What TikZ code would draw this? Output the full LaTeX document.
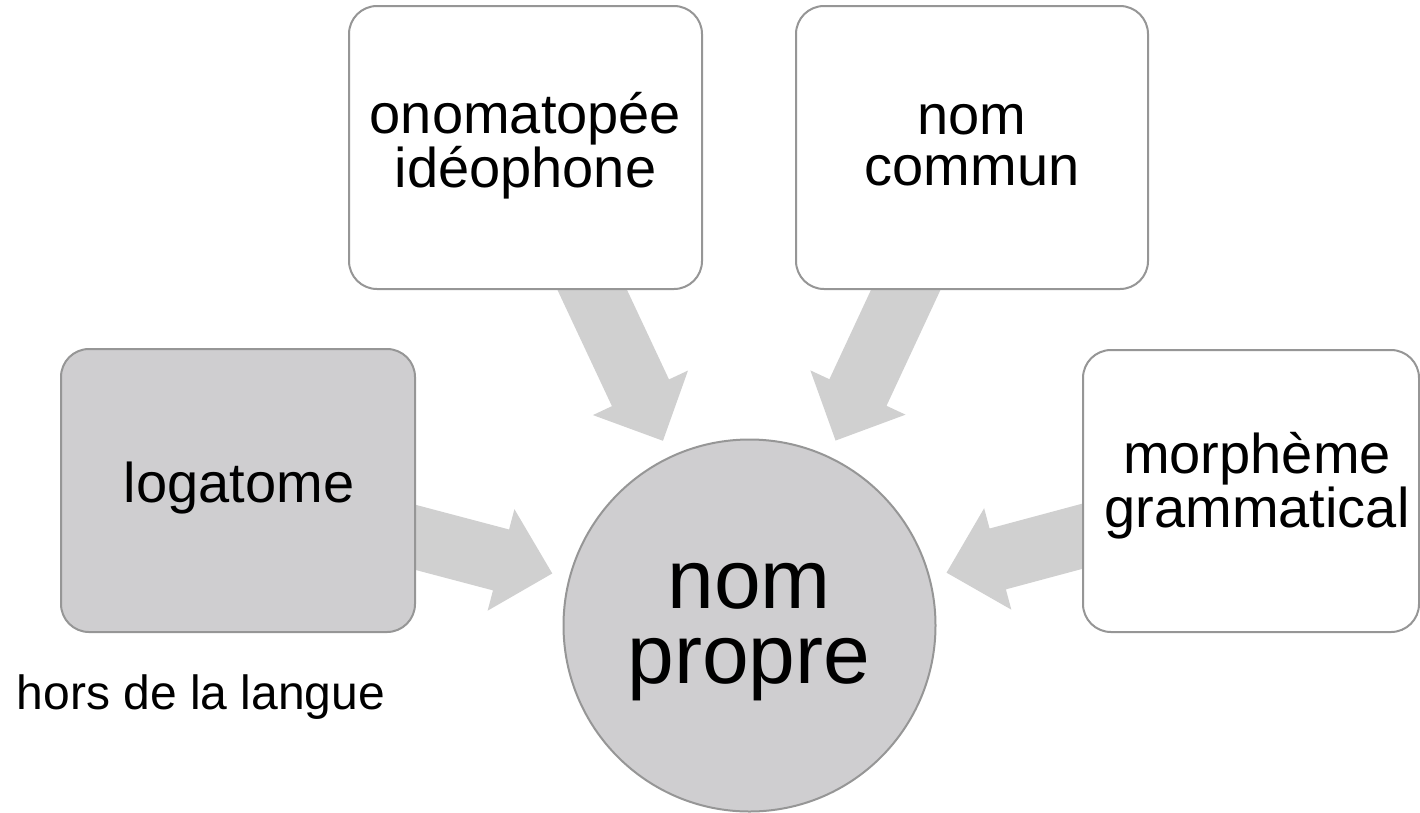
\documentclass[tikz,border=0pt]{standalone}
\usepackage{fontspec}
\setmainfont{Liberation Sans}
\usetikzlibrary{calc}

\definecolor{cardline}{RGB}{150,150,150}
\definecolor{softgray}{RGB}{207,206,208}
\definecolor{arrowgray}{RGB}{208,208,208}

\tikzset{
  card/.style={draw=cardline, line width=2pt, rounded corners=28pt,
               fill=white, inner sep=0pt},
  shadedcard/.style={card, fill=softgray},
  hub/.style={circle, draw=cardline, line width=2pt, fill=softgray,
              minimum size=372pt, inner sep=0pt},
  boxtext/.style={anchor=base, inner sep=0pt, align=center,
                  font=\fontsize{56}{52}\selectfont},
  hubtext/.style={anchor=base, inner sep=0pt, align=center,
                  font=\fontsize{84}{75}\selectfont},
  notetext/.style={anchor=base, inner sep=0pt,
                   font=\fontsize{48}{48}\selectfont},
  flow/.style={fill=arrowgray, draw=none},
}

% broad block arrow from the centre of #1 towards #2, tip stopping
% 204pt short of the centre of #2
\newcommand\blockarrow[2]{%
  \fill[flow]
    ($(#1)!31.5pt!90:(#2)$)
    -- ($(#2)!257pt!(#1)!31.5pt!90:(#2)$)
    -- ($(#2)!257pt!(#1)!52.5pt!90:(#2)$)
    -- ($(#2)!204pt!(#1)$)
    -- ($(#2)!257pt!(#1)!52.5pt!-90:(#2)$)
    -- ($(#2)!257pt!(#1)!31.5pt!-90:(#2)$)
    -- ($(#1)!31.5pt!-90:(#2)$)
    -- cycle;}

\begin{document}
\begin{tikzpicture}[x=1pt, y=-1pt]
  \useasboundingbox (0,0) rectangle (1420,812);

  % anchor points of the five shapes
  \coordinate (onoC) at (525.5,147.5);
  \coordinate (comC) at (972,147.5);
  \coordinate (logC) at (238,490.5);
  \coordinate (morC) at (1251,491);
  \coordinate (hubC) at (749.5,625.5);

  % arrows (drawn first so the cards hide their tails)
  \blockarrow{onoC}{hubC}
  \blockarrow{comC}{hubC}
  \blockarrow{logC}{hubC}
  \blockarrow{morC}{hubC}

  % cards
  \node[card, minimum width=353pt, minimum height=283pt] (ono) at (onoC) {};
  \node[card, minimum width=352pt, minimum height=283pt] (com) at (comC) {};
  \node[shadedcard, minimum width=354pt, minimum height=283pt] (log) at (logC) {};
  \node[card, minimum width=336pt, minimum height=282pt] (mor) at (morC) {};
  \node[hub] (hub) at (hubC) {};

  % labels (base anchor = baseline of the last line)
  \node[boxtext, font=\fontsize{56}{54}\selectfont] (onoT) at (525.5,187) {onomatopée\\idéophone};
  \node[boxtext, font=\fontsize{56}{51}\selectfont] (comT) at (972,185) {nom\\commun};
  \node[boxtext] (logT) at (239,502) {logatome};
  \node[boxtext, font=\fontsize{56}{51}\selectfont] (morT) at (1257,527) {morphème\\grammatical};
  \node[hubtext] (hubT) at (749,683) {nom\\propre};
  \node[notetext] (note) at (201,709) {hors de la langue};
\end{tikzpicture}
\end{document}
